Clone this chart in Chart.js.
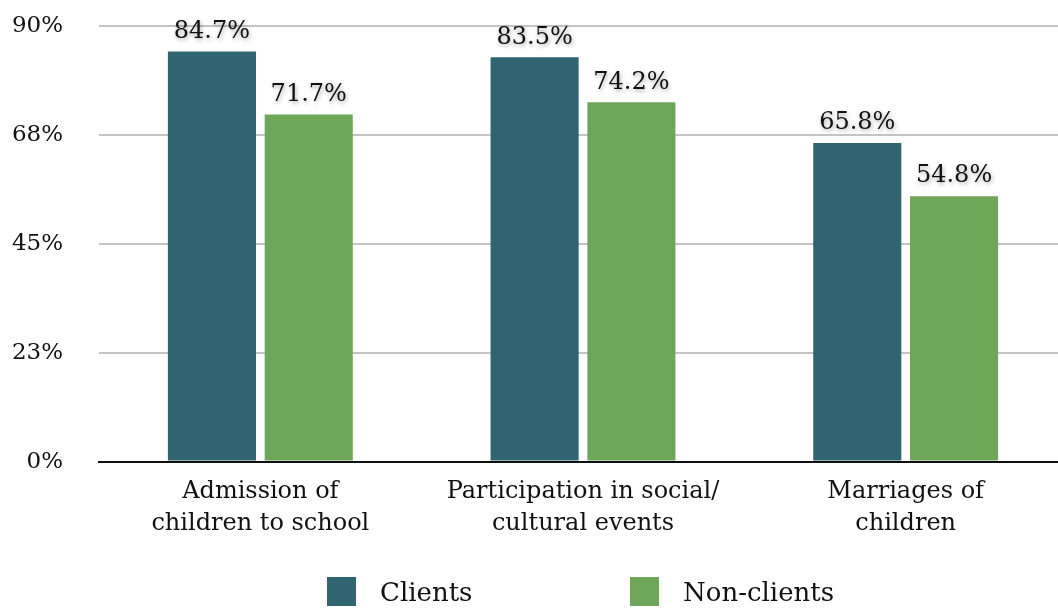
<!DOCTYPE html>
<html>
<head>
<meta charset="utf-8">
<script src="https://cdn.jsdelivr.net/npm/chart.js@4/dist/chart.umd.min.js"></script>
<style>
    html, body { margin: 0; padding: 0; background: #fff; overflow: hidden; }
    #wrap { position: relative; width: 1068px; height: 608px; }
    #barChart { position: absolute; left: 0; top: -24px; }
    #legend {
        position: absolute; left: 0; top: 577px; width: 1058px;
        font-family: "DejaVu Serif", serif; font-size: 26px; color: #111;
    }
    #legend .item { position: absolute; top: 0; height: 30px; line-height: 30px; white-space: nowrap; }
    #legend .box { display: inline-block; width: 29px; height: 29px; vertical-align: top; margin-right: 24px; }
</style>
</head>
<body>
<div id="wrap">
    <canvas id="barChart" width="1068" height="608"></canvas>
    <div id="legend"></div>
</div>
<script>
var categories = [
    ["Admission of", "children to school"],
    ["Participation in social/", "cultural events"],
    ["Marriages of", "children"]
];
var clients = [84.7, 83.5, 65.8];
var nonClients = [71.7, 74.2, 54.8];
var yTicks = [0, 22.5, 45, 67.5, 90];

var teal = "#2f6470";
var green = "#6ea65a";
var fontFamily = "'DejaVu Serif', serif";

// value labels over each bar, with a soft shadow
var barValues = {
    id: 'barValues',
    afterDatasetsDraw: function (chart) {
        var ctx = chart.ctx;
        ctx.save();
        ctx.font = "24px " + fontFamily;
        ctx.textAlign = "center";
        ctx.textBaseline = "bottom";
        ctx.fillStyle = "#111";
        ctx.shadowColor = "rgba(0,0,0,0.35)";
        ctx.shadowBlur = 4;
        ctx.shadowOffsetX = 1;
        ctx.shadowOffsetY = 2;
        chart.data.datasets.forEach(function (ds, i) {
            chart.getDatasetMeta(i).data.forEach(function (bar, j) {
                ctx.fillText(ds.data[j].toFixed(1) + "%", bar.x, bar.y - 8);
            });
        });
        ctx.restore();
    }
};

var chart = new Chart(document.getElementById("barChart"), {
    type: 'bar',
    data: {
        labels: categories,
        datasets: [
            {
                label: "Clients",
                data: clients,
                backgroundColor: teal,
                categoryPercentage: 0.6,
                barPercentage: 0.91
            },
            {
                label: "Non-clients",
                data: nonClients,
                backgroundColor: green,
                categoryPercentage: 0.6,
                barPercentage: 0.91
            }
        ]
    },
    options: {
        responsive: false,
        animation: false,
        layout: { padding: { left: 0, right: 1, top: 0, bottom: 38 } },
        plugins: {
            legend: { display: false },
            tooltip: { enabled: false }
        },
        scales: {
            x: {
                grid: { display: false },
                border: { display: true, color: "#111", width: 2 },
                ticks: {
                    color: "#111",
                    padding: 7,
                    font: { family: fontFamily, size: 24, lineHeight: 1.3 }
                }
            },
            y: {
                min: 0,
                max: 90,
                afterBuildTicks: function (axis) {
                    axis.ticks = yTicks.map(function (v) { return { value: v }; });
                },
                afterFit: function (axis) { axis.width = 99; },
                border: { display: false },
                grid: {
                    drawTicks: false,
                    lineWidth: 2,
                    color: function (c) { return c.tick && c.tick.value === 0 ? "rgba(0,0,0,0)" : "#c4c4c4"; }
                },
                ticks: {
                    color: "#111",
                    padding: 36,
                    font: { family: fontFamily, size: 23 },
                    callback: function (v) { return Math.round(v) + "%"; }
                }
            }
        }
    },
    plugins: [barValues]
});

// legend built from the chart's own datasets
var legend = document.getElementById("legend");
var legendX = [327, 630];
chart.data.datasets.forEach(function (ds, i) {
    var item = document.createElement("div");
    item.className = "item";
    item.style.left = legendX[i] + "px";
    item.innerHTML = '<span class="box" style="background:' + ds.backgroundColor + '"></span>' + ds.label;
    legend.appendChild(item);
});
</script>
</body>
</html>
